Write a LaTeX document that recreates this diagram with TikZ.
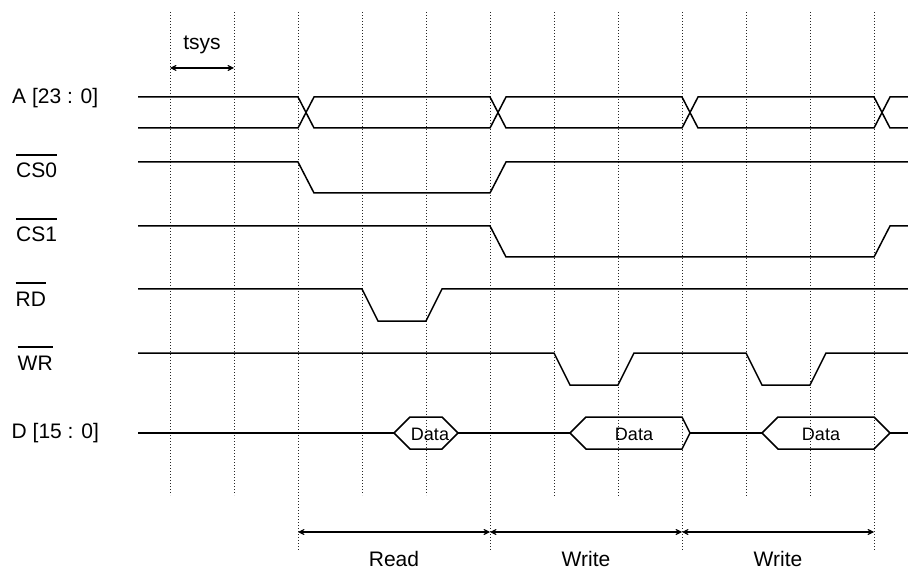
\documentclass[tikz,border=0pt]{standalone}
\usepackage{fontspec}
\setmainfont{Liberation Sans}
\usetikzlibrary{arrows.meta}
\newlength\ovlwd
\newcommand{\ovlsig}[1]{\settowidth{\ovlwd}{#1}\rlap{\rule[1.07em]{\ovlwd}{0.07em}}#1}

\begin{document}
\begin{tikzpicture}[x=1pt,y=-1pt,
  wave/.style={line width=1.5pt, line join=miter},
  gridline/.style={line width=0.9pt, dash pattern=on 1.2pt off 1.8pt, black!85},
  span/.style={{Stealth[length=10pt,width=10pt,inset=6.5pt]}-{Stealth[length=10pt,width=10pt,inset=6.5pt]}, line width=1.5pt},
  siglabel/.style={anchor=base west, inner sep=0pt, font=\fontsize{21}{24}\selectfont},
  spanlabel/.style={anchor=base, inner sep=0pt, font=\fontsize{21}{24}\selectfont},
  datalabel/.style={anchor=base, inner sep=0pt, font=\fontsize{18}{20}\selectfont}]
  \useasboundingbox (0,0) rectangle (908,572);
  % Time grid
  \foreach \k/\yend in {0/495,1/495,2/551,3/495,4/495,5/551,6/497,7/497,8/551,9/497,10/497,11/550}
    \draw[gridline] ({170+64*\k},12) -- ({170+64*\k},\yend);
  % Signal names
  \node[siglabel] (lA) at (12,104) {A [23 : 0]};
  \node[siglabel] (lCS0) at (16,178) {\ovlsig{CS0}};
  \node[siglabel] (lCS1) at (16,242) {\ovlsig{CS1}};
  \node[siglabel] (lRD) at (15.5,306) {\ovlsig{RD}};
  \node[siglabel] (lWR) at (17.5,370) {\ovlsig{WR}};
  \node[siglabel] (lD) at (11.5,438) {D [15 : 0]};
  % A [23:0]
  \draw[wave] (138,97) -- (298,97) -- (314,128) -- (490,128) -- (506,97) -- (682,97) -- (698,128) -- (874,128) -- (890,97) -- (908,97);
  \draw[wave] (138,128) -- (298,128) -- (314,97) -- (490,97) -- (506,128) -- (682,128) -- (698,97) -- (874,97) -- (890,128) -- (908,128);
  % CS0, CS1
  \draw[wave] (138,162) -- (298,162) -- (314,193) -- (490,193) -- (506,162) -- (908,162);
  \draw[wave] (138,226) -- (490,226) -- (506,257) -- (874,257) -- (890,226) -- (908,226);
  % RD, WR
  \draw[wave] (138,289) -- (362,289) -- (378,321) -- (426,321) -- (442,289) -- (908,289);
  \draw[wave] (138,353) -- (554,353) -- (570,385) -- (618,385) -- (634,353) -- (746,353) -- (762,385) -- (810,385) -- (826,353) -- (908,353);
  % D [15:0]
  \draw[wave] (138,433) -- (394,433) (458,433) -- (570,433) (690,433) -- (762,433) (890,433) -- (908,433);
  \draw[wave] (394,433) -- (410,417) -- (442,417) -- (458,433) -- (442,449) -- (410,449) -- cycle;
  \draw[wave] (570,433) -- (586,417) -- (682,417) -- (690,433) -- (682,449) -- (586,449) -- cycle;
  \draw[wave] (762,433) -- (778,417) -- (874,417) -- (890,433) -- (874,449) -- (778,449) -- cycle;
  \node[datalabel] (d1) at (430,440) {Data};
  \node[datalabel] (d2) at (634,440) {Data};
  \node[datalabel] (d3) at (821,440) {Data};
  % tsys
  \coordinate (ts0) at (170,68);
  \coordinate (ts1) at (234,68);
  \draw[span, line width=1.2pt] (ts0) -- (ts1);
  \node[spanlabel] (tsys) at (202,50) {tsys};
  % Cycles
  \foreach \k in {2,5,8,11}
    \coordinate (p\k) at ({170+64*\k},532);
  \draw[span] (p2) -- (p5);
  \draw[span] (p5) -- (p8);
  \draw[span] (p8) -- (p11);
  \node[spanlabel] (rd) at (394,566) {Read};
  \node[spanlabel] (wr1) at (586,566) {Write};
  \node[spanlabel] (wr2) at (778,566) {Write};
\end{tikzpicture}
\end{document}
